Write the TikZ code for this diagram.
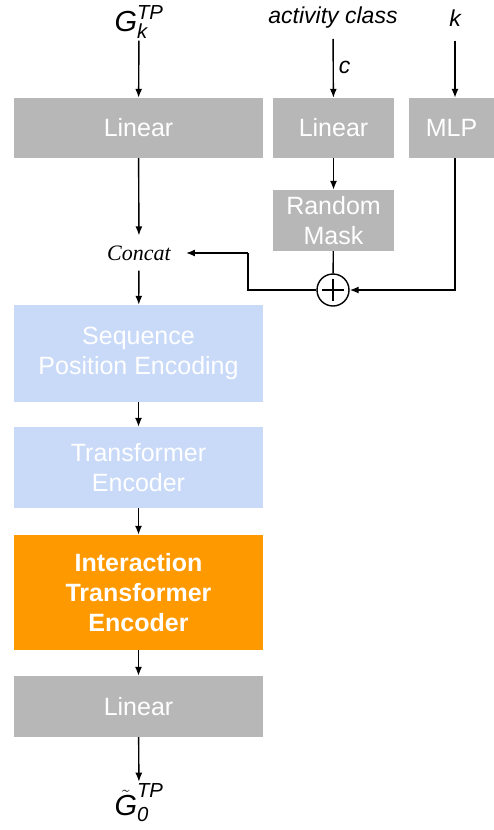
\documentclass[tikz,border=0pt]{standalone}
\usepackage{amsmath}
\usepackage{fontspec}
\setmainfont{Liberation Serif}
\setsansfont{Liberation Sans}
\usetikzlibrary{arrows.meta}

\definecolor{boxgray}{RGB}{183,183,183}
\definecolor{boxblue}{RGB}{201,218,248}
\definecolor{boxorange}{RGB}{255,153,0}

\tikzset{
	block/.style={fill=boxgray, text=white, align=center, inner sep=0pt,
		font=\sffamily\fontsize{25}{30}\selectfont},
	lbl/.style={font=\sffamily\itshape\fontsize{23}{27}\selectfont, inner sep=2pt},
	biglbl/.style={lbl, font=\sffamily\itshape\fontsize{29}{33}\selectfont},
	arr/.style={-{Latex[length=9pt,width=7pt]}, line width=1.4pt},
	wire/.style={line width=1.4pt},
	sumnode/.style={circle, draw, line width=1.4pt, minimum size=32pt, inner sep=0pt,
		path picture={\draw[line width=1.4pt] (path picture bounding box.center) ++(-11,0) -- ++(22,0)
			(path picture bounding box.center) ++(0,-11) -- ++(0,22);}}
}

\begin{document}
\begin{tikzpicture}[x=1pt,y=-1pt]
	\useasboundingbox (0,0) rectangle (494,830);
	
	%Inputs
	\node[biglbl] (Gin) at (139,22) {$\text{G}^{\text{TP}}_{\text{k}}$};
	\node[lbl] (act) at (333,18) {activity class};
	\node[lbl] (kin) at (455,18) {k};
	
	%Top row of blocks
	\def\y{128}
	\node[block, minimum width=249pt, minimum height=60pt] (L1) at (138.5,\y) {Linear};
	\node[block, minimum width=121pt, minimum height=60pt] (L2) at (333.5,\y) {Linear};
	\node[block, minimum width=85pt, minimum height=60pt] (MLP) at (451.5,\y) {MLP};
	\node[block, minimum width=121pt, minimum height=61pt] (RM) at (333.5,220.5) {Random\\Mask};
	
	%Sum and concat
	\node[sumnode] (sum) at (333,290) {};
	\node[font=\rmfamily\itshape\fontsize{22}{26}\selectfont, inner xsep=15pt, inner ysep=10pt] (cat) at (139,253) {Concat};
	\coordinate (bend) at (248,253);
	
	%Left column of blocks
	\def\w{249pt}
	\node[block, fill=boxblue, minimum width=\w, minimum height=97pt] (SPE) at (138.5,353.5) {Sequence\\Position Encoding};
	\node[block, fill=boxblue, minimum width=\w, minimum height=81pt] (TE) at (138.5,467.5) {Transformer\\Encoder};
	\node[block, fill=boxorange, minimum width=\w, minimum height=115pt, font=\sffamily\bfseries\fontsize{25}{30}\selectfont] (ITE) at (138.5,592.5) {Interaction\\Transformer\\Encoder};
	\node[block, minimum width=\w, minimum height=61pt] (L3) at (138.5,706.5) {Linear};
	
	%Output
	\node[biglbl] (Gout) at (139,803) {$\tilde{\text{G}}^{\text{TP}}_{\text{0}}$};
	
	%Connectors
	\draw[arr] (Gin) -- (L1);
	\draw[arr, shorten <=8pt] (act) -- node[lbl, right, pos=0.55, xshift=3pt] (c) {c} (L2);
	\draw[arr, shorten <=12pt] (kin) -- (kin |- MLP.north);
	\draw[arr] (L2) -- (RM);
	\draw[wire] (RM) -- (sum);
	\draw[arr] (kin |- MLP.south) |- (sum.east);
	\draw[wire] (sum.west) -| (bend);
	\draw[arr] (bend) -- (cat.east);
	\draw[arr] (L1) -- (cat);
	\draw[arr] (cat) -- (SPE);
	\draw[arr] (SPE) -- (TE);
	\draw[arr] (TE) -- (ITE);
	\draw[arr] (ITE) -- (L3);
	\draw[arr] (L3) -- (Gout);
\end{tikzpicture}
\end{document}
